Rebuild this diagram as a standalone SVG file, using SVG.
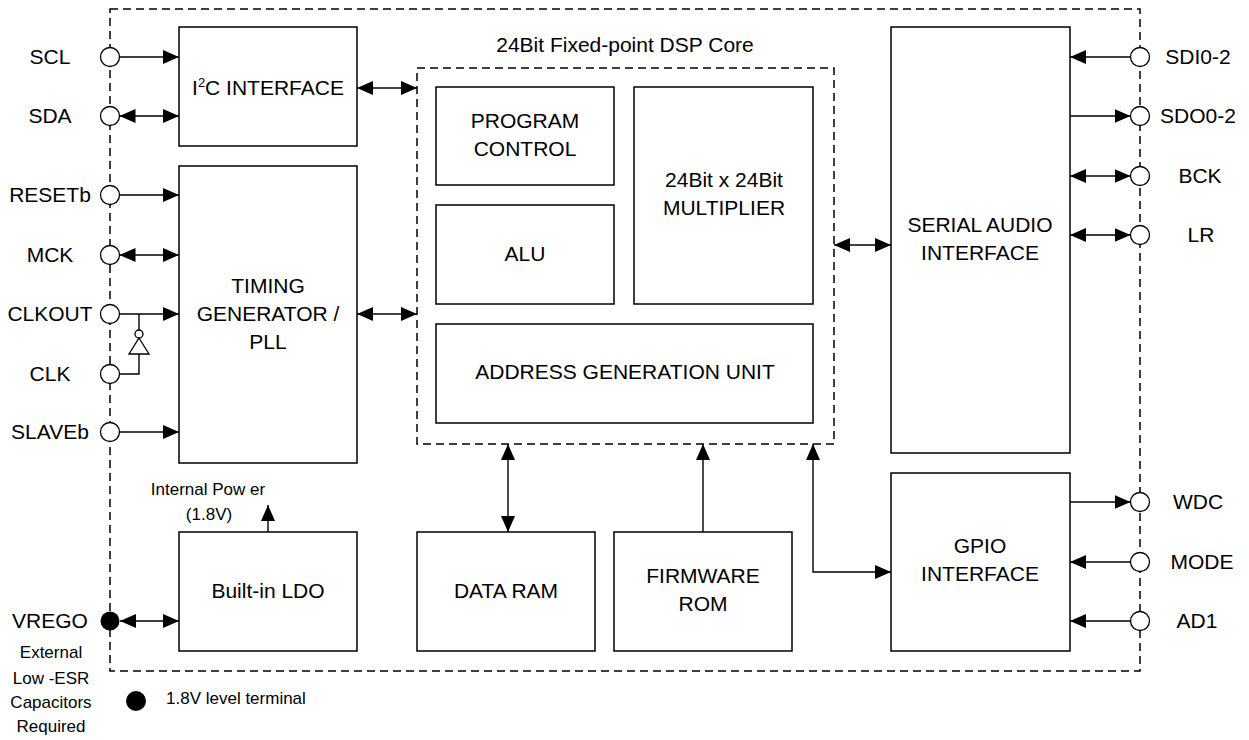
<svg xmlns="http://www.w3.org/2000/svg" width="1249" height="740" viewBox="0 0 1249 740">
<style>
text{font-family:"Liberation Sans",Arial,sans-serif;font-size:21px;fill:#000;text-anchor:middle}
.sm{font-size:17px}
.box{fill:#fff;stroke:#000;stroke-width:1.5}
.dash{fill:none;stroke:#000;stroke-width:1.5;stroke-dasharray:8 5}
.pin{fill:#fff;stroke:#000;stroke-width:1.3}
.ln{fill:none;stroke:#000;stroke-width:1.4}
</style>
<defs>
<marker id="ah" markerUnits="userSpaceOnUse" markerWidth="16" markerHeight="14" refX="16" refY="7" orient="auto-start-reverse"><path d="M0,0 L16,7 L0,14 Z" fill="#000"/></marker>
</defs>
<rect class="dash" x="110" y="9" width="1030" height="662"/>
<g id="connectors">
<path class="ln" d="M119.5,57 H179" marker-end="url(#ah)"/>
<path class="ln" d="M119.5,116 H179" marker-start="url(#ah)" marker-end="url(#ah)"/>
<path class="ln" d="M119.5,195 H179" marker-end="url(#ah)"/>
<path class="ln" d="M119.5,255 H179" marker-start="url(#ah)" marker-end="url(#ah)"/>
<path class="ln" d="M119.5,314 H179" marker-end="url(#ah)"/>
<path class="ln" d="M139,314 V330"/>
<path class="ln" d="M139,354 V374 H119.5"/>
<path class="ln" d="M119.5,432 H179" marker-end="url(#ah)"/>
<path class="ln" d="M120,621 H179" marker-start="url(#ah)" marker-end="url(#ah)"/>
<path class="ln" d="M357,88 H417" marker-start="url(#ah)" marker-end="url(#ah)"/>
<path class="ln" d="M357,314 H417" marker-start="url(#ah)" marker-end="url(#ah)"/>
<path class="ln" d="M834,245 H891" marker-start="url(#ah)" marker-end="url(#ah)"/>
<path class="ln" d="M268,532 V505" marker-end="url(#ah)"/>
<path class="ln" d="M508,444 V532" marker-start="url(#ah)" marker-end="url(#ah)"/>
<path class="ln" d="M703,532 V444" marker-end="url(#ah)"/>
<path class="ln" d="M813,444 V572 H891" marker-start="url(#ah)" marker-end="url(#ah)"/>
<path class="ln" d="M1130.5,57 H1070" marker-end="url(#ah)"/>
<path class="ln" d="M1070,116 H1130.5" marker-end="url(#ah)"/>
<path class="ln" d="M1070,176 H1130.5" marker-start="url(#ah)" marker-end="url(#ah)"/>
<path class="ln" d="M1070,235 H1130.5" marker-start="url(#ah)" marker-end="url(#ah)"/>
<path class="ln" d="M1070,502 H1130.5" marker-end="url(#ah)"/>
<path class="ln" d="M1130.5,562 H1070" marker-end="url(#ah)"/>
<path class="ln" d="M1130.5,621 H1070" marker-end="url(#ah)"/>
</g>
<g id="inverter">
<circle class="pin" cx="139" cy="334" r="4"/>
<path class="pin" d="M139,338 L149,354 L129,354 Z"/>
</g>
<g id="i2c"><rect class="box" x="179" y="27" width="178" height="119"/><text x="268" y="95">I<tspan font-size="13" dy="-8">2</tspan><tspan dy="8">C INTERFACE</tspan></text></g>
<g id="timing"><rect class="box" x="179" y="166" width="178" height="297"/><text x="268" y="293">TIMING</text><text x="268" y="321">GENERATOR /</text><text x="268" y="349">PLL</text></g>
<g id="ldo"><rect class="box" x="179" y="532" width="178" height="119"/><text x="268" y="598">Built-in LDO</text></g>
<g id="power-label"><text class="sm" x="208" y="495">Internal Pow er</text><text class="sm" x="209" y="520">(1.8V)</text></g>
<g id="dsp-core"><rect class="dash" x="417" y="68" width="417" height="376"/><text x="625" y="52">24Bit Fixed-point DSP Core</text></g>
<g id="program-control"><rect class="box" x="436" y="87" width="178" height="98"/><text x="525" y="128">PROGRAM</text><text x="525" y="156">CONTROL</text></g>
<g id="alu"><rect class="box" x="436" y="205" width="178" height="99"/><text x="525" y="261">ALU</text></g>
<g id="multiplier"><rect class="box" x="634" y="87" width="179" height="217"/><text x="724" y="187">24Bit x 24Bit</text><text x="724" y="215">MULTIPLIER</text></g>
<g id="agu"><rect class="box" x="436" y="324" width="377" height="99"/><text x="625" y="379">ADDRESS GENERATION UNIT</text></g>
<g id="data-ram"><rect class="box" x="417" y="532" width="178" height="119"/><text x="506" y="598">DATA RAM</text></g>
<g id="firmware-rom"><rect class="box" x="614" y="532" width="178" height="119"/><text x="703" y="583">FIRMWARE</text><text x="703" y="611">ROM</text></g>
<g id="serial-audio"><rect class="box" x="891" y="27" width="179" height="426"/><text x="980" y="232">SERIAL AUDIO</text><text x="980" y="260">INTERFACE</text></g>
<g id="gpio"><rect class="box" x="891" y="473" width="179" height="178"/><text x="980" y="553">GPIO</text><text x="980" y="581">INTERFACE</text></g>
<g id="left-pins">
<circle class="pin" cx="110" cy="57" r="9.5"/><text x="50" y="64">SCL</text>
<circle class="pin" cx="110" cy="116" r="9.5"/><text x="50" y="123">SDA</text>
<circle class="pin" cx="110" cy="195" r="9.5"/><text x="50" y="202">RESETb</text>
<circle class="pin" cx="110" cy="255" r="9.5"/><text x="50" y="262">MCK</text>
<circle class="pin" cx="110" cy="314" r="9.5"/><text x="50" y="321">CLKOUT</text>
<circle class="pin" cx="110" cy="374" r="9.5"/><text x="50" y="381">CLK</text>
<circle class="pin" cx="110" cy="432" r="9.5"/><text x="50" y="439">SLAVEb</text>
<circle cx="110" cy="621" r="9.5" fill="#000"/><text x="50" y="628">VREGO</text>
</g>
<g id="right-pins">
<circle class="pin" cx="1140" cy="57" r="9.5"/><text x="1198" y="64">SDI0-2</text>
<circle class="pin" cx="1140" cy="116" r="9.5"/><text x="1198" y="123">SDO0-2</text>
<circle class="pin" cx="1140" cy="176" r="9.5"/><text x="1200" y="183">BCK</text>
<circle class="pin" cx="1140" cy="235" r="9.5"/><text x="1201" y="242">LR</text>
<circle class="pin" cx="1140" cy="502" r="9.5"/><text x="1198" y="509">WDC</text>
<circle class="pin" cx="1140" cy="562" r="9.5"/><text x="1202" y="569">MODE</text>
<circle class="pin" cx="1140" cy="621" r="9.5"/><text x="1197" y="628">AD1</text>
</g>
<g id="notes">
<text class="sm" x="51" y="658">External</text>
<text class="sm" x="51" y="684">Low -ESR</text>
<text class="sm" x="51" y="708">Capacitors</text>
<text class="sm" x="51" y="732">Required</text>
<circle cx="136" cy="701" r="10" fill="#000"/>
<text class="sm" x="166" y="704" style="text-anchor:start">1.8V level terminal</text>
</g>
</svg>
